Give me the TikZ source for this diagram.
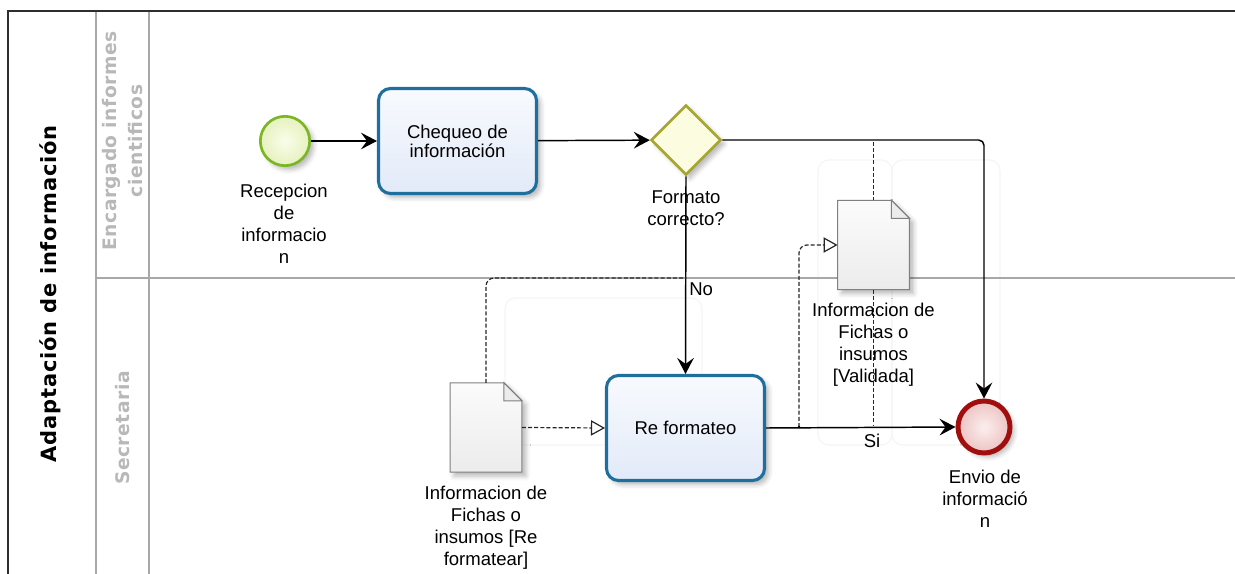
\documentclass[tikz,border=0pt]{standalone}
\usepackage{fontspec}
\setmainfont{Liberation Sans}
\newfontfamily\lanefont{DejaVu Sans}[LetterSpace=3]
\newfontfamily\poolfont{DejaVu Sans}[LetterSpace=4]
\usetikzlibrary{arrows.meta,shapes.geometric,shadows.blur,calc}

\definecolor{pooledge}{HTML}{2E2E2E}
\definecolor{laneedge}{HTML}{A8A8A8}
\definecolor{lanetext}{HTML}{B8B8B8}
\definecolor{taskline}{HTML}{1E6E9E}
\definecolor{taskfillA}{HTML}{F8FAFE}
\definecolor{taskfillB}{HTML}{E2EAF8}
\definecolor{startline}{HTML}{7DB624}
\definecolor{startfillA}{HTML}{FAFDEA}
\definecolor{startfillB}{HTML}{E6F1BE}
\definecolor{gwline}{HTML}{A6A630}
\definecolor{gwfill}{HTML}{FCFCE0}
\definecolor{endline}{HTML}{A00E0E}
\definecolor{endfillA}{HTML}{FCEEEE}
\definecolor{endfillB}{HTML}{EDC3C3}
\definecolor{docline}{HTML}{808080}
\definecolor{docfillA}{HTML}{FBFBFB}
\definecolor{docfillB}{HTML}{ECECEC}

\tikzset{
  softshadow/.style={blur shadow={shadow xshift=3pt, shadow yshift=-3pt,
      shadow opacity=28, shadow blur radius=3.5pt}},
  taskbox/.style={draw=taskline, line width=2.3pt, rounded corners=9pt,
      minimum width=118.5pt, minimum height=78.75pt, inner sep=0pt,
      top color=taskfillA, bottom color=taskfillB, align=center,
      font=\fontsize{13.9}{14.4}\selectfont, softshadow},
  startev/.style={circle, draw=startline, line width=2pt, minimum size=37pt,
      inner sep=0pt, inner color=startfillA, outer color=startfillB, softshadow},
  endev/.style={circle, draw=endline, line width=3.7pt, minimum size=39pt,
      inner sep=0pt, inner color=endfillA, outer color=endfillB, softshadow},
  gateway/.style={diamond, draw=gwline, line width=2pt, fill=gwfill,
      minimum width=52.5pt, minimum height=52.5pt, inner sep=0pt, softshadow},
  docnode/.style={rectangle, minimum width=53.5pt, minimum height=66.5pt,
      inner sep=0pt},
  docshape/.style={draw=docline, line width=0.8pt, top color=docfillA,
      bottom color=docfillB, softshadow},
  docfold/.style={draw=docline, line width=0.8pt, fill=docfillB},
  lbl/.style={align=center, inner sep=0pt,
      font=\fontsize{13.9}{16.5}\selectfont},
  seqflow/.style={draw=black, line width=1.1pt,
      -{Stealth[length=12pt,width=12.5pt,inset=4.5pt]}},
  assocflow/.style={draw=black!85, line width=0.9pt,
      dash pattern=on 3pt off 1.6pt},
  assocarrow/.style={assocflow,
      -{Triangle[open,length=10.5pt,width=11.5pt,line width=0.9pt]}},
  ghost/.style={draw=black!4, line width=0.9pt, rounded corners=8pt},
}

\begin{document}
\begin{tikzpicture}[x=0.75pt,y=-0.75pt]
\useasboundingbox (0,0) rectangle (1235,574);

% faint frames left behind in the lanes
\draw[ghost] (505,298) rectangle (702,445);
\draw[ghost] (818,160) rectangle (892,445);
\draw[ghost] (892,160) rectangle (1000,445);

% pool and lanes
\draw[laneedge, line width=1pt] (96,11) -- (96,574);
\draw[laneedge, line width=1pt] (149,11) -- (149,574);
\draw[laneedge, line width=1pt] (96,278) -- (1235,278);
\draw[pooledge, line width=1.6pt] (1235,11) -- (8,11) -- (8,574);

\node[rotate=90, font=\poolfont\bfseries\fontsize{15.75}{18}\selectfont]
  (pooltitle) at (50,294) {Adaptación de información};
\node[rotate=90, align=center, text=lanetext,
  font=\lanefont\bfseries\fontsize{14}{19.5}\selectfont]
  (laneA) at (122.5,141) {Encargado informes\\cientificos};
\node[rotate=90, text=lanetext,
  font=\lanefont\bfseries\fontsize{14}{19.5}\selectfont]
  (laneB) at (122.5,428) {Secretaria};

% flow objects
\node[startev] (start) at (285,141) {};
\node[lbl] (startlbl) at (284,223.5) {Recepcion\\de\\informacio\\n};

\node[taskbox] (check) at (457.5,141) {Chequeo de\\información};

\node[gateway] (gw) at (686,140) {};
\node[lbl] (gwlbl) at (686,208) {Formato\\correcto?};

\node[taskbox] (refmt) at (685.5,428) {Re formateo};

\node[endev] (endev) at (984,427) {};
\node[lbl] (endlbl) at (985,498.5) {Envio de\\informació\\n};

% data objects
\node[docnode] (docA) at (486,427.5) {};
\draw[docshape] (docA.south west) -- (docA.north west)
  -- ($(docA.north east)+(-18,0)$) -- ($(docA.north east)+(0,18)$)
  -- (docA.south east) -- cycle;
\draw[docfold] ($(docA.north east)+(-18,0)$) -- ($(docA.north east)+(-18,18)$)
  -- ($(docA.north east)+(0,18)$) -- cycle;
\node[lbl] (docAlbl) at (486,528)
  {Informacion de\\Fichas o\\insumos [Re\\formatear]};

\node[docnode] (docB) at (873.5,245) {};
\draw[docshape] (docB.south west) -- (docB.north west)
  -- ($(docB.north east)+(-18,0)$) -- ($(docB.north east)+(0,18)$)
  -- (docB.south east) -- cycle;
\draw[docfold] ($(docB.north east)+(-18,0)$) -- ($(docB.north east)+(-18,18)$)
  -- ($(docB.north east)+(0,18)$) -- cycle;

% sequence flows
\draw[seqflow] (start) -- (check);
\draw[seqflow] (check) -- (gw);
\draw[seqflow, rounded corners=4pt] (gw.east) -| (endev.north);
\draw[seqflow] (gw.south) -- (refmt.north);
\node[lbl, anchor=west] (nolbl) at (689,289) {No};
\draw[seqflow] (refmt.east) -- (endev.west);
\node[lbl] (silbl) at (872,441) {Si};

% associations
\coordinate (assocA) at (686,278);
\coordinate (assocB) at (799,427);
\coordinate (assocC1) at (873.5,142);
\coordinate (assocC2) at (873.5,425);
\draw[assocarrow] (docA.east) -- (refmt.west);
\draw[assocflow, rounded corners=6pt] (docA.north) |- (assocA);
\draw[assocarrow, rounded corners=6pt] (assocB) |- (docB.west);
\fill (assocB) circle (1.1pt);
\draw[assocflow] (assocC1) -- (docB.north);
\draw[assocflow] (docB.south) -- (assocC2);

\node[lbl] (docBlbl) at (873.5,345)
  {Informacion de\\Fichas o\\insumos\\{[Validada]}};
\end{tikzpicture}
\end{document}
